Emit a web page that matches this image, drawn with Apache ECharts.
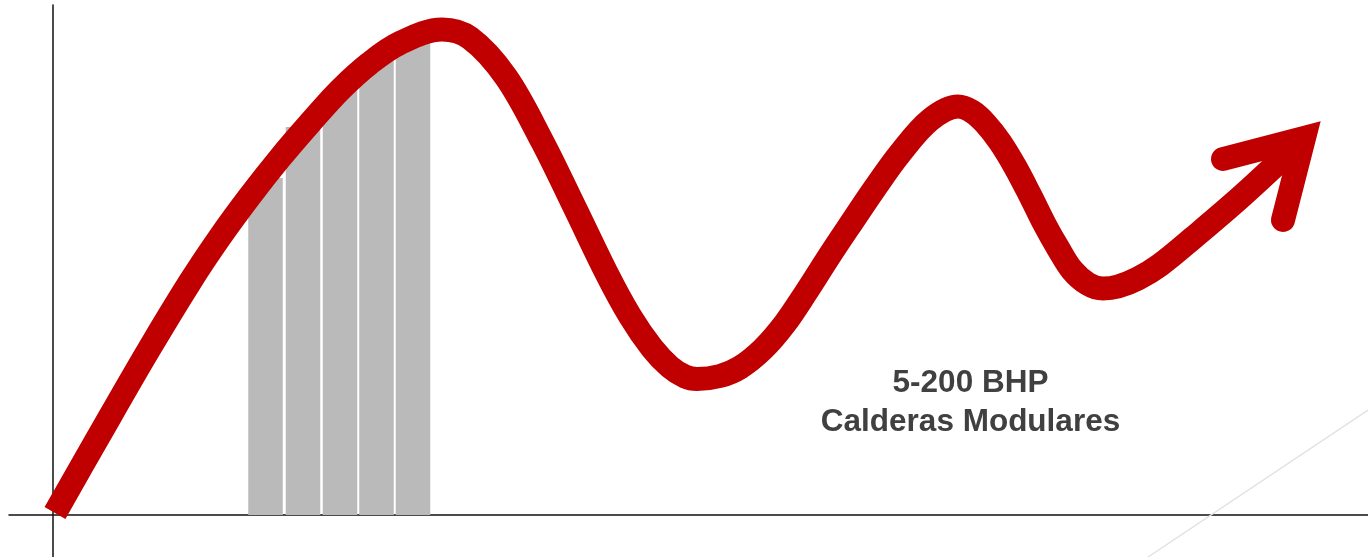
<!DOCTYPE html>
<html>
<head>
<meta charset="utf-8">
<script src="https://cdn.jsdelivr.net/npm/echarts@6/dist/echarts.min.js"></script>
<style>
html,body{margin:0;padding:0;background:#fff;}
#chart{width:1368px;height:557px;}
</style>
</head>
<body>
<div id="chart"></div>
<script>
// Main trend curve (x, y)
const curveX = [2, 47, 95, 137, 167, 197, 227, 257, 287, 317, 347, 389,
                417, 453, 489, 522, 554, 577, 599, 617, 632, 644,
                667, 687, 710, 732, 753, 777, 799, 822, 847, 877, 905,
                919, 932, 947, 962, 977, 992, 1005, 1019, 1035, 1050,
                1065, 1085, 1107, 1140, 1190, 1248];
const curveY = [2, 81, 164, 233, 278, 319, 357, 392, 425, 452, 472, 485.5,
                477, 438, 374, 307, 241, 199, 167, 148, 138.5, 136,
                139, 147.5, 166, 191.5, 222.5, 260, 293, 327, 361.5, 395, 408.5,
                403.5, 392, 373, 348.5, 320, 290, 267, 245, 231, 226.5,
                228.5, 236.5, 250, 277, 320, 374];
// Arrow head (left arm end, tip, right arm end)
const arrowX = [1170, 1251, 1230];
const arrowY = [356, 377, 295];
// Grey bars
const barX = [212.5, 250, 287, 323.5, 360];
const barY = [337, 388, 425, 457, 473];
// Faint decorative diagonal
const diagX = [1095, 1315];
const diagY = [-42, 105];
// Label text
const labelLines = ['5-200 BHP', 'Calderas Modulares'];

const zip = (a, b) => a.map((v, i) => [v, b[i]]);

const chart = echarts.init(document.getElementById('chart'), null, {renderer: 'canvas'});
const option = {
  animation: false,
  backgroundColor: '#ffffff',
  grid: {left: 9, right: 0, top: 5, bottom: 0, containLabel: false},
  xAxis: {
    type: 'value', min: -44, max: 1315,
    axisLine: {show: true, onZero: true, lineStyle: {color: '#111', width: 1.5}},
    axisTick: {show: false}, axisLabel: {show: false}, splitLine: {show: false}
  },
  yAxis: {
    type: 'value', min: -42, max: 510,
    axisLine: {show: true, onZero: true, lineStyle: {color: '#111', width: 1.5}},
    axisTick: {show: false}, axisLabel: {show: false}, splitLine: {show: false}
  },
  series: [
    {
      type: 'line', data: zip(diagX, diagY), symbol: 'none', silent: true, z: 0,
      lineStyle: {color: '#e2e2e2', width: 1.5}
    },
    {
      type: 'bar', data: zip(barX, barY), barWidth: 34.5, z: 1,
      itemStyle: {color: '#bababa'}
    },
    {
      type: 'line', data: zip(curveX, curveY), smooth: 0.35, symbol: 'none', z: 3,
      lineStyle: {color: '#c00000', width: 24, cap: 'butt', join: 'round'}
    },
    {
      type: 'line', data: zip(arrowX, arrowY), smooth: false, symbol: 'none', z: 4,
      lineStyle: {color: '#c00000', width: 24, cap: 'round', join: 'miter', miterLimit: 10}
    }
  ],
  graphic: labelLines.map((t, i) => ({
    type: 'text', x: 970.5, y: 383 + i * 39, z: 10,
    style: {
      text: t, fill: '#404040', align: 'center', verticalAlign: 'middle',
      font: 'bold 31.5px "Liberation Sans", Arial, sans-serif'
    }
  }))
};
chart.setOption(option);
</script>
</body>
</html>
